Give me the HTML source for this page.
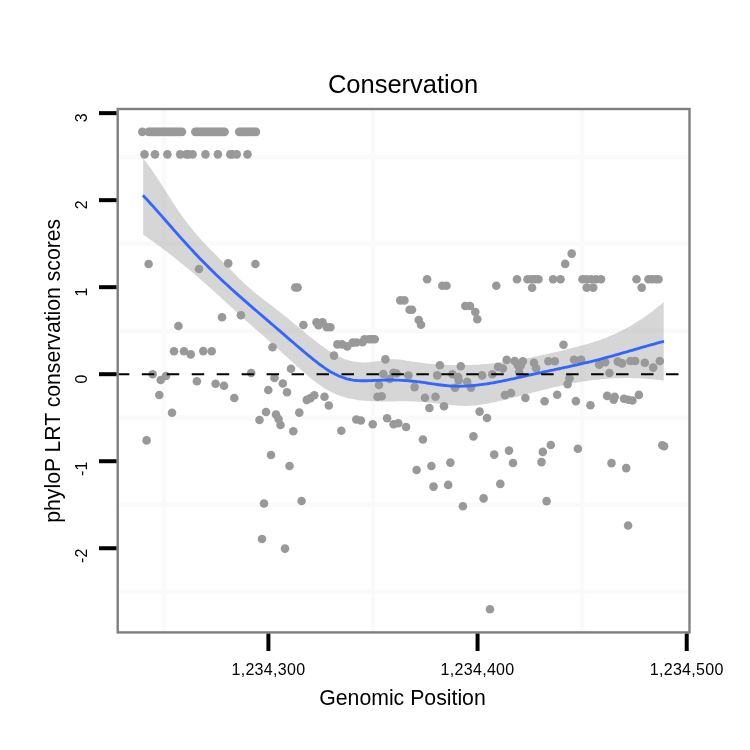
<!DOCTYPE html>
<html><head><meta charset="utf-8"><style>
html,body{margin:0;padding:0;background:#fff;}
svg{display:block;will-change:transform;}
text{font-family:"Liberation Sans",sans-serif;fill:#000;}
</style></head><body>
<svg width="750" height="750" viewBox="0 0 750 750">
<rect width="750" height="750" fill="#fff"/>
<g stroke="#fafafa" stroke-width="4.5">
<line x1="163.82" y1="109.0" x2="163.82" y2="632.4"/>
<line x1="372.98" y1="109.0" x2="372.98" y2="632.4"/>
<line x1="582.14" y1="109.0" x2="582.14" y2="632.4"/>
<line x1="117.7" y1="156.65" x2="689.5" y2="156.65"/>
<line x1="117.7" y1="243.67" x2="689.5" y2="243.67"/>
<line x1="117.7" y1="330.69" x2="689.5" y2="330.69"/>
<line x1="117.7" y1="417.71" x2="689.5" y2="417.71"/>
<line x1="117.7" y1="504.73" x2="689.5" y2="504.73"/>
<line x1="117.7" y1="591.75" x2="689.5" y2="591.75"/>
</g>
<g fill="#999999">
<circle cx="142.30" cy="131.85" r="4.3"/>
<circle cx="148.60" cy="131.85" r="4.3"/>
<circle cx="150.60" cy="131.85" r="4.3"/>
<circle cx="152.69" cy="131.85" r="4.3"/>
<circle cx="154.78" cy="131.85" r="4.3"/>
<circle cx="156.87" cy="131.85" r="4.3"/>
<circle cx="158.97" cy="131.85" r="4.3"/>
<circle cx="161.06" cy="131.85" r="4.3"/>
<circle cx="163.15" cy="131.85" r="4.3"/>
<circle cx="165.24" cy="131.85" r="4.3"/>
<circle cx="167.33" cy="131.85" r="4.3"/>
<circle cx="169.42" cy="131.85" r="4.3"/>
<circle cx="171.52" cy="131.85" r="4.3"/>
<circle cx="173.61" cy="131.85" r="4.3"/>
<circle cx="175.70" cy="131.85" r="4.3"/>
<circle cx="177.79" cy="131.85" r="4.3"/>
<circle cx="179.88" cy="131.85" r="4.3"/>
<circle cx="181.97" cy="131.85" r="4.3"/>
<circle cx="195.30" cy="131.85" r="4.3"/>
<circle cx="197.39" cy="131.85" r="4.3"/>
<circle cx="199.48" cy="131.85" r="4.3"/>
<circle cx="201.57" cy="131.85" r="4.3"/>
<circle cx="203.67" cy="131.85" r="4.3"/>
<circle cx="205.76" cy="131.85" r="4.3"/>
<circle cx="207.85" cy="131.85" r="4.3"/>
<circle cx="209.94" cy="131.85" r="4.3"/>
<circle cx="212.03" cy="131.85" r="4.3"/>
<circle cx="214.12" cy="131.85" r="4.3"/>
<circle cx="216.22" cy="131.85" r="4.3"/>
<circle cx="218.31" cy="131.85" r="4.3"/>
<circle cx="220.40" cy="131.85" r="4.3"/>
<circle cx="222.49" cy="131.85" r="4.3"/>
<circle cx="224.58" cy="131.85" r="4.3"/>
<circle cx="239.20" cy="131.85" r="4.3"/>
<circle cx="241.29" cy="131.85" r="4.3"/>
<circle cx="243.38" cy="131.85" r="4.3"/>
<circle cx="245.47" cy="131.85" r="4.3"/>
<circle cx="247.57" cy="131.85" r="4.3"/>
<circle cx="249.66" cy="131.85" r="4.3"/>
<circle cx="251.75" cy="131.85" r="4.3"/>
<circle cx="253.84" cy="131.85" r="4.3"/>
<circle cx="255.93" cy="131.85" r="4.3"/>
<circle cx="144.50" cy="154.35" r="4.3"/>
<circle cx="155.00" cy="154.35" r="4.3"/>
<circle cx="167.40" cy="154.35" r="4.3"/>
<circle cx="180.20" cy="154.35" r="4.3"/>
<circle cx="186.40" cy="154.35" r="4.3"/>
<circle cx="188.50" cy="154.35" r="4.3"/>
<circle cx="192.60" cy="154.35" r="4.3"/>
<circle cx="205.50" cy="154.35" r="4.3"/>
<circle cx="217.90" cy="154.35" r="4.3"/>
<circle cx="230.30" cy="154.35" r="4.3"/>
<circle cx="232.40" cy="154.35" r="4.3"/>
<circle cx="236.70" cy="154.35" r="4.3"/>
<circle cx="247.50" cy="154.35" r="4.3"/>
<circle cx="148.60" cy="264.00" r="4.3"/>
<circle cx="199.00" cy="269.00" r="4.3"/>
<circle cx="228.20" cy="263.40" r="4.3"/>
<circle cx="255.40" cy="264.00" r="4.3"/>
<circle cx="178.40" cy="326.00" r="4.3"/>
<circle cx="222.00" cy="317.30" r="4.3"/>
<circle cx="240.90" cy="315.30" r="4.3"/>
<circle cx="174.00" cy="351.30" r="4.3"/>
<circle cx="184.00" cy="351.30" r="4.3"/>
<circle cx="190.70" cy="354.40" r="4.3"/>
<circle cx="203.30" cy="351.10" r="4.3"/>
<circle cx="211.70" cy="351.30" r="4.3"/>
<circle cx="272.50" cy="347.20" r="4.3"/>
<circle cx="152.70" cy="374.30" r="4.3"/>
<circle cx="160.70" cy="380.00" r="4.3"/>
<circle cx="166.00" cy="376.00" r="4.3"/>
<circle cx="159.30" cy="395.00" r="4.3"/>
<circle cx="196.90" cy="381.30" r="4.3"/>
<circle cx="215.60" cy="383.70" r="4.3"/>
<circle cx="224.00" cy="385.70" r="4.3"/>
<circle cx="234.30" cy="398.00" r="4.3"/>
<circle cx="172.00" cy="412.70" r="4.3"/>
<circle cx="146.60" cy="440.40" r="4.3"/>
<circle cx="251.20" cy="373.00" r="4.3"/>
<circle cx="291.00" cy="368.80" r="4.3"/>
<circle cx="274.50" cy="378.00" r="4.3"/>
<circle cx="282.80" cy="383.50" r="4.3"/>
<circle cx="268.30" cy="390.00" r="4.3"/>
<circle cx="287.00" cy="392.20" r="4.3"/>
<circle cx="266.00" cy="412.00" r="4.3"/>
<circle cx="259.50" cy="420.00" r="4.3"/>
<circle cx="276.00" cy="414.50" r="4.3"/>
<circle cx="278.50" cy="419.00" r="4.3"/>
<circle cx="280.50" cy="425.00" r="4.3"/>
<circle cx="299.30" cy="412.60" r="4.3"/>
<circle cx="293.30" cy="431.20" r="4.3"/>
<circle cx="271.00" cy="455.00" r="4.3"/>
<circle cx="264.00" cy="503.50" r="4.3"/>
<circle cx="301.60" cy="501.00" r="4.3"/>
<circle cx="262.00" cy="539.00" r="4.3"/>
<circle cx="285.00" cy="548.60" r="4.3"/>
<circle cx="289.50" cy="466.00" r="4.3"/>
<circle cx="295.30" cy="287.50" r="4.3"/>
<circle cx="297.60" cy="287.50" r="4.3"/>
<circle cx="303.40" cy="325.00" r="4.3"/>
<circle cx="316.50" cy="322.30" r="4.3"/>
<circle cx="322.50" cy="322.30" r="4.3"/>
<circle cx="318.50" cy="325.30" r="4.3"/>
<circle cx="326.80" cy="327.30" r="4.3"/>
<circle cx="330.40" cy="327.30" r="4.3"/>
<circle cx="337.40" cy="344.40" r="4.3"/>
<circle cx="342.00" cy="344.40" r="4.3"/>
<circle cx="347.20" cy="346.40" r="4.3"/>
<circle cx="352.70" cy="342.60" r="4.3"/>
<circle cx="356.50" cy="342.50" r="4.3"/>
<circle cx="362.50" cy="342.30" r="4.3"/>
<circle cx="364.50" cy="339.30" r="4.3"/>
<circle cx="369.00" cy="339.30" r="4.3"/>
<circle cx="372.00" cy="339.30" r="4.3"/>
<circle cx="374.70" cy="339.30" r="4.3"/>
<circle cx="334.00" cy="355.60" r="4.3"/>
<circle cx="385.40" cy="359.40" r="4.3"/>
<circle cx="400.30" cy="300.40" r="4.3"/>
<circle cx="404.40" cy="300.40" r="4.3"/>
<circle cx="409.60" cy="309.70" r="4.3"/>
<circle cx="412.00" cy="309.70" r="4.3"/>
<circle cx="418.70" cy="320.00" r="4.3"/>
<circle cx="421.00" cy="324.70" r="4.3"/>
<circle cx="306.80" cy="399.90" r="4.3"/>
<circle cx="310.50" cy="398.10" r="4.3"/>
<circle cx="314.30" cy="395.30" r="4.3"/>
<circle cx="324.50" cy="396.80" r="4.3"/>
<circle cx="328.80" cy="405.50" r="4.3"/>
<circle cx="341.30" cy="430.70" r="4.3"/>
<circle cx="356.30" cy="419.50" r="4.3"/>
<circle cx="360.90" cy="420.50" r="4.3"/>
<circle cx="372.70" cy="424.20" r="4.3"/>
<circle cx="387.10" cy="418.20" r="4.3"/>
<circle cx="393.60" cy="424.20" r="4.3"/>
<circle cx="398.30" cy="423.30" r="4.3"/>
<circle cx="406.10" cy="427.00" r="4.3"/>
<circle cx="422.90" cy="439.50" r="4.3"/>
<circle cx="416.60" cy="470.00" r="4.3"/>
<circle cx="431.40" cy="466.00" r="4.3"/>
<circle cx="383.30" cy="374.00" r="4.3"/>
<circle cx="393.50" cy="372.80" r="4.3"/>
<circle cx="396.50" cy="373.50" r="4.3"/>
<circle cx="389.80" cy="379.00" r="4.3"/>
<circle cx="408.40" cy="375.50" r="4.3"/>
<circle cx="379.00" cy="385.00" r="4.3"/>
<circle cx="414.60" cy="387.10" r="4.3"/>
<circle cx="377.50" cy="396.70" r="4.3"/>
<circle cx="381.70" cy="396.20" r="4.3"/>
<circle cx="439.90" cy="365.30" r="4.3"/>
<circle cx="437.20" cy="375.40" r="4.3"/>
<circle cx="425.00" cy="397.80" r="4.3"/>
<circle cx="435.50" cy="396.80" r="4.3"/>
<circle cx="429.40" cy="408.00" r="4.3"/>
<circle cx="444.00" cy="406.20" r="4.3"/>
<circle cx="460.80" cy="366.30" r="4.3"/>
<circle cx="452.50" cy="374.30" r="4.3"/>
<circle cx="458.10" cy="377.00" r="4.3"/>
<circle cx="458.70" cy="380.20" r="4.3"/>
<circle cx="455.00" cy="387.70" r="4.3"/>
<circle cx="467.20" cy="381.80" r="4.3"/>
<circle cx="471.00" cy="387.70" r="4.3"/>
<circle cx="482.10" cy="375.40" r="4.3"/>
<circle cx="492.30" cy="374.30" r="4.3"/>
<circle cx="498.10" cy="366.90" r="4.3"/>
<circle cx="502.90" cy="368.50" r="4.3"/>
<circle cx="506.70" cy="359.90" r="4.3"/>
<circle cx="514.70" cy="361.00" r="4.3"/>
<circle cx="517.90" cy="365.30" r="4.3"/>
<circle cx="505.00" cy="395.10" r="4.3"/>
<circle cx="511.00" cy="393.00" r="4.3"/>
<circle cx="519.10" cy="372.00" r="4.3"/>
<circle cx="520.70" cy="365.60" r="4.3"/>
<circle cx="522.80" cy="361.30" r="4.3"/>
<circle cx="534.00" cy="362.90" r="4.3"/>
<circle cx="536.10" cy="368.30" r="4.3"/>
<circle cx="548.40" cy="361.30" r="4.3"/>
<circle cx="554.80" cy="361.30" r="4.3"/>
<circle cx="563.50" cy="344.80" r="4.3"/>
<circle cx="574.00" cy="359.80" r="4.3"/>
<circle cx="580.40" cy="360.40" r="4.3"/>
<circle cx="569.50" cy="378.20" r="4.3"/>
<circle cx="567.60" cy="384.30" r="4.3"/>
<circle cx="525.40" cy="398.00" r="4.3"/>
<circle cx="544.60" cy="401.30" r="4.3"/>
<circle cx="557.20" cy="394.80" r="4.3"/>
<circle cx="575.90" cy="401.10" r="4.3"/>
<circle cx="590.40" cy="405.20" r="4.3"/>
<circle cx="581.20" cy="359.80" r="4.3"/>
<circle cx="599.20" cy="364.60" r="4.3"/>
<circle cx="605.20" cy="362.20" r="4.3"/>
<circle cx="609.40" cy="373.00" r="4.3"/>
<circle cx="617.80" cy="361.60" r="4.3"/>
<circle cx="622.00" cy="363.40" r="4.3"/>
<circle cx="630.40" cy="361.00" r="4.3"/>
<circle cx="635.20" cy="361.00" r="4.3"/>
<circle cx="644.80" cy="362.80" r="4.3"/>
<circle cx="653.20" cy="367.60" r="4.3"/>
<circle cx="659.80" cy="361.00" r="4.3"/>
<circle cx="607.20" cy="395.90" r="4.3"/>
<circle cx="614.70" cy="396.80" r="4.3"/>
<circle cx="613.70" cy="399.60" r="4.3"/>
<circle cx="624.00" cy="398.70" r="4.3"/>
<circle cx="628.30" cy="399.80" r="4.3"/>
<circle cx="632.40" cy="400.50" r="4.3"/>
<circle cx="638.90" cy="394.90" r="4.3"/>
<circle cx="550.80" cy="445.00" r="4.3"/>
<circle cx="542.80" cy="451.90" r="4.3"/>
<circle cx="541.50" cy="462.10" r="4.3"/>
<circle cx="577.90" cy="448.70" r="4.3"/>
<circle cx="662.30" cy="445.30" r="4.3"/>
<circle cx="664.10" cy="446.30" r="4.3"/>
<circle cx="611.50" cy="463.10" r="4.3"/>
<circle cx="626.20" cy="468.10" r="4.3"/>
<circle cx="628.10" cy="525.50" r="4.3"/>
<circle cx="479.60" cy="411.60" r="4.3"/>
<circle cx="487.00" cy="418.00" r="4.3"/>
<circle cx="473.40" cy="436.40" r="4.3"/>
<circle cx="494.20" cy="454.60" r="4.3"/>
<circle cx="509.00" cy="450.60" r="4.3"/>
<circle cx="513.00" cy="463.00" r="4.3"/>
<circle cx="450.40" cy="462.60" r="4.3"/>
<circle cx="433.50" cy="486.60" r="4.3"/>
<circle cx="448.20" cy="484.90" r="4.3"/>
<circle cx="500.30" cy="483.90" r="4.3"/>
<circle cx="483.60" cy="498.40" r="4.3"/>
<circle cx="462.90" cy="506.30" r="4.3"/>
<circle cx="546.60" cy="501.10" r="4.3"/>
<circle cx="490.00" cy="609.30" r="4.3"/>
<circle cx="427.10" cy="279.30" r="4.3"/>
<circle cx="442.30" cy="285.70" r="4.3"/>
<circle cx="446.50" cy="285.70" r="4.3"/>
<circle cx="496.30" cy="285.70" r="4.3"/>
<circle cx="517.00" cy="279.30" r="4.3"/>
<circle cx="527.50" cy="279.30" r="4.3"/>
<circle cx="531.50" cy="279.30" r="4.3"/>
<circle cx="535.00" cy="279.30" r="4.3"/>
<circle cx="538.50" cy="279.30" r="4.3"/>
<circle cx="532.10" cy="287.70" r="4.3"/>
<circle cx="553.10" cy="279.20" r="4.3"/>
<circle cx="560.50" cy="279.20" r="4.3"/>
<circle cx="582.50" cy="279.20" r="4.3"/>
<circle cx="586.50" cy="279.20" r="4.3"/>
<circle cx="591.00" cy="279.20" r="4.3"/>
<circle cx="596.00" cy="279.20" r="4.3"/>
<circle cx="601.00" cy="279.20" r="4.3"/>
<circle cx="586.70" cy="287.60" r="4.3"/>
<circle cx="593.20" cy="287.60" r="4.3"/>
<circle cx="636.50" cy="279.20" r="4.3"/>
<circle cx="648.50" cy="279.20" r="4.3"/>
<circle cx="652.00" cy="279.20" r="4.3"/>
<circle cx="656.00" cy="279.20" r="4.3"/>
<circle cx="658.50" cy="279.20" r="4.3"/>
<circle cx="641.70" cy="287.60" r="4.3"/>
<circle cx="571.70" cy="253.60" r="4.3"/>
<circle cx="565.20" cy="263.90" r="4.3"/>
<circle cx="465.30" cy="306.00" r="4.3"/>
<circle cx="470.00" cy="306.00" r="4.3"/>
<circle cx="475.30" cy="312.00" r="4.3"/>
<circle cx="477.30" cy="319.30" r="4.3"/>
</g>
<path d="M143.20,158.47 L145.20,160.98 L147.20,163.59 L149.20,166.31 L151.20,169.12 L153.20,172.00 L155.20,174.96 L157.20,177.98 L159.20,181.04 L161.20,184.15 L163.20,187.28 L165.20,190.42 L167.20,193.57 L169.20,196.72 L171.20,199.84 L173.20,202.94 L175.20,206.00 L177.20,209.02 L179.20,211.97 L181.20,214.85 L183.20,217.65 L185.20,220.37 L187.20,223.02 L189.20,225.59 L191.20,228.09 L193.20,230.53 L195.20,232.91 L197.20,235.23 L199.20,237.50 L201.20,239.72 L203.20,241.90 L205.20,244.04 L207.20,246.15 L209.20,248.22 L211.20,250.27 L213.20,252.30 L215.20,254.30 L217.20,256.30 L219.20,258.28 L221.20,260.26 L223.20,262.23 L225.20,264.21 L227.20,266.20 L229.20,268.20 L231.20,270.21 L233.20,272.24 L235.20,274.30 L237.20,276.35 L239.20,278.38 L241.20,280.36 L243.20,282.28 L245.20,284.15 L247.20,285.97 L249.20,287.73 L251.20,289.46 L253.20,291.15 L255.20,292.80 L257.20,294.42 L259.20,296.01 L261.20,297.59 L263.20,299.14 L265.20,300.69 L267.20,302.22 L269.20,303.75 L271.20,305.27 L273.20,306.80 L275.20,308.34 L277.20,309.89 L279.20,311.46 L281.20,313.04 L283.20,314.63 L285.20,316.25 L287.20,317.87 L289.20,319.50 L291.20,321.14 L293.20,322.80 L295.20,324.45 L297.20,326.11 L299.20,327.78 L301.20,329.44 L303.20,331.11 L305.20,332.77 L307.20,334.42 L309.20,336.06 L311.20,337.68 L313.20,339.29 L315.20,340.87 L317.20,342.42 L319.20,343.94 L321.20,345.43 L323.20,346.87 L325.20,348.28 L327.20,349.64 L329.20,350.95 L331.20,352.21 L333.20,353.41 L335.20,354.55 L337.20,355.62 L339.20,356.63 L341.20,357.56 L343.20,358.42 L345.20,359.20 L347.20,359.90 L349.20,360.51 L351.20,361.03 L353.20,361.46 L355.20,361.80 L357.20,362.07 L359.20,362.26 L361.20,362.38 L363.20,362.43 L365.20,362.42 L367.20,362.36 L369.20,362.24 L371.20,362.07 L373.20,361.86 L375.20,361.62 L377.20,361.34 L379.20,361.03 L381.20,360.69 L383.20,360.35 L385.20,360.02 L387.20,359.72 L389.20,359.48 L391.20,359.31 L393.20,359.24 L395.20,359.26 L397.20,359.38 L399.20,359.56 L401.20,359.80 L403.20,360.09 L405.20,360.40 L407.20,360.74 L409.20,361.08 L411.20,361.41 L413.20,361.72 L415.20,362.03 L417.20,362.31 L419.20,362.59 L421.20,362.85 L423.20,363.09 L425.20,363.32 L427.20,363.54 L429.20,363.74 L431.20,363.93 L433.20,364.11 L435.20,364.27 L437.20,364.42 L439.20,364.55 L441.20,364.67 L443.20,364.78 L445.20,364.87 L447.20,364.96 L449.20,365.02 L451.20,365.08 L453.20,365.12 L455.20,365.15 L457.20,365.16 L459.20,365.17 L461.20,365.16 L463.20,365.13 L465.20,365.10 L467.20,365.05 L469.20,364.99 L471.20,364.92 L473.20,364.83 L475.20,364.74 L477.20,364.63 L479.20,364.50 L481.20,364.37 L483.20,364.22 L485.20,364.06 L487.20,363.89 L489.20,363.71 L491.20,363.52 L493.20,363.31 L495.20,363.10 L497.20,362.87 L499.20,362.63 L501.20,362.37 L503.20,362.11 L505.20,361.84 L507.20,361.55 L509.20,361.26 L511.20,360.95 L513.20,360.64 L515.20,360.31 L517.20,359.97 L519.20,359.63 L521.20,359.28 L523.20,358.92 L525.20,358.54 L527.20,358.17 L529.20,357.78 L531.20,357.38 L533.20,356.98 L535.20,356.57 L537.20,356.16 L539.20,355.73 L541.20,355.30 L543.20,354.87 L545.20,354.43 L547.20,353.98 L549.20,353.52 L551.20,353.07 L553.20,352.60 L555.20,352.14 L557.20,351.66 L559.20,351.19 L561.20,350.71 L563.20,350.22 L565.20,349.73 L567.20,349.24 L569.20,348.75 L571.20,348.25 L573.20,347.75 L575.20,347.24 L577.20,346.73 L579.20,346.21 L581.20,345.68 L583.20,345.14 L585.20,344.58 L587.20,344.01 L589.20,343.42 L591.20,342.82 L593.20,342.19 L595.20,341.55 L597.20,340.88 L599.20,340.19 L601.20,339.47 L603.20,338.73 L605.20,337.96 L607.20,337.17 L609.20,336.36 L611.20,335.51 L613.20,334.64 L615.20,333.74 L617.20,332.81 L619.20,331.86 L621.20,330.87 L623.20,329.86 L625.20,328.81 L627.20,327.73 L629.20,326.63 L631.20,325.48 L633.20,324.31 L635.20,323.10 L637.20,321.86 L639.20,320.59 L641.20,319.28 L643.20,317.93 L645.20,316.55 L647.20,315.13 L649.20,313.67 L651.20,312.18 L653.20,310.65 L655.20,309.08 L657.20,307.47 L659.20,305.82 L661.20,304.13 L663.20,302.39 L663.70,301.96 L663.70,380.56 L663.20,380.50 L661.20,380.24 L659.20,380.00 L657.20,379.77 L655.20,379.56 L653.20,379.36 L651.20,379.18 L649.20,379.01 L647.20,378.85 L645.20,378.71 L643.20,378.58 L641.20,378.47 L639.20,378.37 L637.20,378.28 L635.20,378.22 L633.20,378.16 L631.20,378.12 L629.20,378.09 L627.20,378.08 L625.20,378.08 L623.20,378.10 L621.20,378.13 L619.20,378.17 L617.20,378.24 L615.20,378.31 L613.20,378.40 L611.20,378.50 L609.20,378.62 L607.20,378.75 L605.20,378.90 L603.20,379.06 L601.20,379.24 L599.20,379.43 L597.20,379.64 L595.20,379.86 L593.20,380.09 L591.20,380.34 L589.20,380.61 L587.20,380.88 L585.20,381.18 L583.20,381.49 L581.20,381.81 L579.20,382.15 L577.20,382.50 L575.20,382.86 L573.20,383.24 L571.20,383.63 L569.20,384.02 L567.20,384.44 L565.20,384.86 L563.20,385.29 L561.20,385.73 L559.20,386.17 L557.20,386.63 L555.20,387.10 L553.20,387.57 L551.20,388.05 L549.20,388.53 L547.20,389.02 L545.20,389.51 L543.20,390.01 L541.20,390.52 L539.20,391.03 L537.20,391.54 L535.20,392.05 L533.20,392.56 L531.20,393.08 L529.20,393.60 L527.20,394.11 L525.20,394.63 L523.20,395.15 L521.20,395.66 L519.20,396.18 L517.20,396.69 L515.20,397.20 L513.20,397.70 L511.20,398.21 L509.20,398.70 L507.20,399.20 L505.20,399.68 L503.20,400.17 L501.20,400.64 L499.20,401.11 L497.20,401.57 L495.20,402.02 L493.20,402.45 L491.20,402.87 L489.20,403.28 L487.20,403.66 L485.20,404.02 L483.20,404.36 L481.20,404.67 L479.20,404.95 L477.20,405.20 L475.20,405.41 L473.20,405.59 L471.20,405.73 L469.20,405.83 L467.20,405.89 L465.20,405.91 L463.20,405.89 L461.20,405.84 L459.20,405.76 L457.20,405.65 L455.20,405.51 L453.20,405.35 L451.20,405.17 L449.20,404.98 L447.20,404.77 L445.20,404.55 L443.20,404.31 L441.20,404.07 L439.20,403.83 L437.20,403.59 L435.20,403.34 L433.20,403.10 L431.20,402.87 L429.20,402.65 L427.20,402.43 L425.20,402.23 L423.20,402.05 L421.20,401.89 L419.20,401.75 L417.20,401.64 L415.20,401.54 L413.20,401.47 L411.20,401.41 L409.20,401.37 L407.20,401.34 L405.20,401.33 L403.20,401.33 L401.20,401.33 L399.20,401.34 L397.20,401.36 L395.20,401.38 L393.20,401.40 L391.20,401.42 L389.20,401.44 L387.20,401.45 L385.20,401.46 L383.20,401.46 L381.20,401.45 L379.20,401.42 L377.20,401.39 L375.20,401.34 L373.20,401.27 L371.20,401.19 L369.20,401.08 L367.20,400.95 L365.20,400.80 L363.20,400.62 L361.20,400.41 L359.20,400.17 L357.20,399.90 L355.20,399.60 L353.20,399.25 L351.20,398.87 L349.20,398.44 L347.20,397.96 L345.20,397.43 L343.20,396.85 L341.20,396.21 L339.20,395.51 L337.20,394.74 L335.20,393.91 L333.20,393.01 L331.20,392.04 L329.20,390.99 L327.20,389.87 L325.20,388.67 L323.20,387.41 L321.20,386.08 L319.20,384.69 L317.20,383.24 L315.20,381.74 L313.20,380.19 L311.20,378.59 L309.20,376.96 L307.20,375.28 L305.20,373.57 L303.20,371.84 L301.20,370.07 L299.20,368.29 L297.20,366.48 L295.20,364.66 L293.20,362.83 L291.20,360.99 L289.20,359.15 L287.20,357.31 L285.20,355.48 L283.20,353.65 L281.20,351.84 L279.20,350.04 L277.20,348.24 L275.20,346.46 L273.20,344.68 L271.20,342.91 L269.20,341.14 L267.20,339.38 L265.20,337.62 L263.20,335.86 L261.20,334.11 L259.20,332.35 L257.20,330.59 L255.20,328.83 L253.20,327.06 L251.20,325.29 L249.20,323.51 L247.20,321.72 L245.20,319.93 L243.20,318.12 L241.20,316.31 L239.20,314.49 L237.20,312.66 L235.20,310.83 L233.20,308.99 L231.20,307.15 L229.20,305.30 L227.20,303.46 L225.20,301.62 L223.20,299.77 L221.20,297.93 L219.20,296.10 L217.20,294.27 L215.20,292.44 L213.20,290.63 L211.20,288.82 L209.20,287.02 L207.20,285.23 L205.20,283.46 L203.20,281.69 L201.20,279.94 L199.20,278.20 L197.20,276.48 L195.20,274.76 L193.20,273.06 L191.20,271.38 L189.20,269.70 L187.20,268.04 L185.20,266.39 L183.20,264.75 L181.20,263.13 L179.20,261.51 L177.20,259.92 L175.20,258.33 L173.20,256.76 L171.20,255.20 L169.20,253.65 L167.20,252.12 L165.20,250.59 L163.20,249.09 L161.20,247.59 L159.20,246.11 L157.20,244.64 L155.20,243.19 L153.20,241.74 L151.20,240.31 L149.20,238.90 L147.20,237.50 L145.20,236.11 L143.20,234.73 Z" fill="#999999" fill-opacity="0.4"/>
<path d="M142.90,195.31 L144.90,197.42 L146.90,199.56 L148.90,201.73 L150.90,203.92 L152.90,206.14 L154.90,208.37 L156.90,210.61 L158.90,212.87 L160.90,215.14 L162.90,217.42 L164.90,219.70 L166.90,221.99 L168.90,224.27 L170.90,226.55 L172.90,228.83 L174.90,231.10 L176.90,233.36 L178.90,235.61 L180.90,237.85 L182.90,240.08 L184.90,242.30 L186.90,244.50 L188.90,246.69 L190.90,248.87 L192.90,251.03 L194.90,253.17 L196.90,255.29 L198.90,257.40 L200.90,259.49 L202.90,261.55 L204.90,263.60 L206.90,265.62 L208.90,267.62 L210.90,269.60 L212.90,271.56 L214.90,273.51 L216.90,275.43 L218.90,277.34 L220.90,279.23 L222.90,281.11 L224.90,282.97 L226.90,284.82 L228.90,286.65 L230.90,288.47 L232.90,290.28 L234.90,292.07 L236.90,293.86 L238.90,295.63 L240.90,297.40 L242.90,299.16 L244.90,300.91 L246.90,302.65 L248.90,304.39 L250.90,306.12 L252.90,307.85 L254.90,309.57 L256.90,311.29 L258.90,313.01 L260.90,314.73 L262.90,316.44 L264.90,318.15 L266.90,319.87 L268.90,321.58 L270.90,323.30 L272.90,325.02 L274.90,326.74 L276.90,328.47 L278.90,330.20 L280.90,331.93 L282.90,333.66 L284.90,335.39 L286.90,337.12 L288.90,338.85 L290.90,340.57 L292.90,342.29 L294.90,344.01 L296.90,345.72 L298.90,347.42 L300.90,349.11 L302.90,350.80 L304.90,352.47 L306.90,354.14 L308.90,355.79 L310.90,357.43 L312.90,359.05 L314.90,360.66 L316.90,362.23 L318.90,363.77 L320.90,365.26 L322.90,366.71 L324.90,368.11 L326.90,369.45 L328.90,370.72 L330.90,371.92 L332.90,373.04 L334.90,374.09 L336.90,375.06 L338.90,375.95 L340.90,376.77 L342.90,377.51 L344.90,378.17 L346.90,378.76 L348.90,379.26 L350.90,379.69 L352.90,380.04 L354.90,380.31 L356.90,380.52 L358.90,380.66 L360.90,380.75 L362.90,380.79 L364.90,380.79 L366.90,380.76 L368.90,380.70 L370.90,380.61 L372.90,380.52 L374.90,380.42 L376.90,380.31 L378.90,380.22 L380.90,380.14 L382.90,380.07 L384.90,380.03 L386.90,380.00 L388.90,379.99 L390.90,380.00 L392.90,380.02 L394.90,380.07 L396.90,380.13 L398.90,380.20 L400.90,380.30 L402.90,380.41 L404.90,380.54 L406.90,380.68 L408.90,380.84 L410.90,381.02 L412.90,381.21 L414.90,381.42 L416.90,381.65 L418.90,381.89 L420.90,382.15 L422.90,382.43 L424.90,382.71 L426.90,383.00 L428.90,383.30 L430.90,383.60 L432.90,383.90 L434.90,384.19 L436.90,384.48 L438.90,384.75 L440.90,385.01 L442.90,385.25 L444.90,385.47 L446.90,385.66 L448.90,385.83 L450.90,385.97 L452.90,386.08 L454.90,386.15 L456.90,386.20 L458.90,386.21 L460.90,386.20 L462.90,386.15 L464.90,386.09 L466.90,385.99 L468.90,385.87 L470.90,385.73 L472.90,385.57 L474.90,385.38 L476.90,385.17 L478.90,384.94 L480.90,384.69 L482.90,384.42 L484.90,384.14 L486.90,383.83 L488.90,383.52 L490.90,383.18 L492.90,382.84 L494.90,382.48 L496.90,382.10 L498.90,381.72 L500.90,381.32 L502.90,380.92 L504.90,380.51 L506.90,380.09 L508.90,379.66 L510.90,379.22 L512.90,378.79 L514.90,378.34 L516.90,377.90 L518.90,377.45 L520.90,377.00 L522.90,376.55 L524.90,376.10 L526.90,375.65 L528.90,375.20 L530.90,374.76 L532.90,374.32 L534.90,373.88 L536.90,373.44 L538.90,373.01 L540.90,372.58 L542.90,372.15 L544.90,371.73 L546.90,371.30 L548.90,370.87 L550.90,370.45 L552.90,370.02 L554.90,369.60 L556.90,369.17 L558.90,368.75 L560.90,368.32 L562.90,367.89 L564.90,367.46 L566.90,367.03 L568.90,366.59 L570.90,366.15 L572.90,365.71 L574.90,365.27 L576.90,364.82 L578.90,364.37 L580.90,363.91 L582.90,363.45 L584.90,362.98 L586.90,362.51 L588.90,362.03 L590.90,361.54 L592.90,361.05 L594.90,360.56 L596.90,360.05 L598.90,359.54 L600.90,359.02 L602.90,358.49 L604.90,357.96 L606.90,357.42 L608.90,356.87 L610.90,356.32 L612.90,355.76 L614.90,355.20 L616.90,354.63 L618.90,354.07 L620.90,353.49 L622.90,352.92 L624.90,352.34 L626.90,351.76 L628.90,351.18 L630.90,350.60 L632.90,350.02 L634.90,349.44 L636.90,348.86 L638.90,348.28 L640.90,347.71 L642.90,347.14 L644.90,346.57 L646.90,346.00 L648.90,345.44 L650.90,344.88 L652.90,344.33 L654.90,343.78 L656.90,343.24 L658.90,342.70 L660.90,342.17 L662.90,341.65 L664.00,341.37" fill="none" stroke="#3366ff" stroke-width="2.85" stroke-linejoin="round"/>
<line x1="116.84" y1="374.2" x2="689.5" y2="374.2" stroke="#000" stroke-width="2" stroke-dasharray="12.5 12.46"/>
<rect x="117.7" y="109.0" width="571.80" height="523.40" fill="none" stroke="#7f7f7f" stroke-width="2.4"/>
<g stroke="#000" stroke-width="4">
<line x1="99" y1="113.14" x2="116.50" y2="113.14"/>
<line x1="99" y1="200.16" x2="116.50" y2="200.16"/>
<line x1="99" y1="287.18" x2="116.50" y2="287.18"/>
<line x1="99" y1="374.20" x2="116.50" y2="374.20"/>
<line x1="99" y1="461.22" x2="116.50" y2="461.22"/>
<line x1="99" y1="548.24" x2="116.50" y2="548.24"/>
<line x1="268.40" y1="633.60" x2="268.40" y2="651"/>
<line x1="477.56" y1="633.60" x2="477.56" y2="651"/>
<line x1="686.72" y1="633.60" x2="686.72" y2="651"/>
</g>
<g font-size="16" letter-spacing="0.3">
<text transform="translate(87.2,113.14) rotate(-90)" text-anchor="end">3</text>
<text transform="translate(87.2,200.16) rotate(-90)" text-anchor="end">2</text>
<text transform="translate(87.2,287.18) rotate(-90)" text-anchor="end">1</text>
<text transform="translate(87.2,374.20) rotate(-90)" text-anchor="end">0</text>
<text transform="translate(87.2,461.22) rotate(-90)" text-anchor="end">-1</text>
<text transform="translate(87.2,548.24) rotate(-90)" text-anchor="end">-2</text>
<text x="268.40" y="675" text-anchor="middle">1,234,300</text>
<text x="477.56" y="675" text-anchor="middle">1,234,400</text>
<text x="686.72" y="675" text-anchor="middle">1,234,500</text>
</g>
<text x="403" y="92.7" text-anchor="middle" font-size="25.5">Conservation</text>
<text x="402.5" y="704.8" text-anchor="middle" font-size="21.25">Genomic Position</text>
<text transform="translate(59.8,370.8) rotate(-90)" text-anchor="middle" font-size="21.2">phyloP LRT conservation scores</text>
</svg>
</body></html>
